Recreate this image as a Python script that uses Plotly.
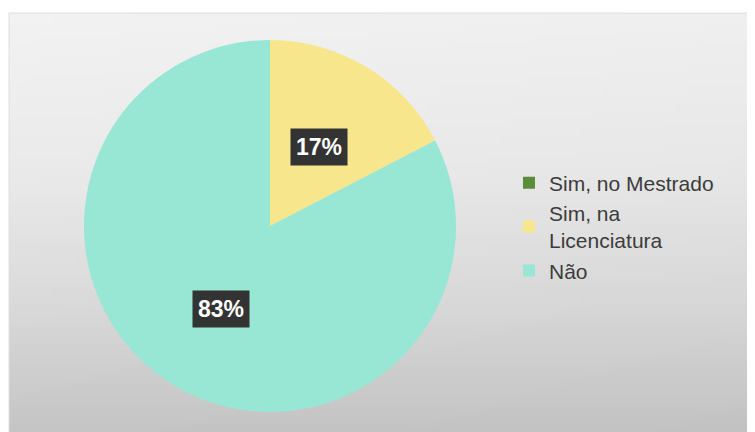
import base64
import math
import struct
import zlib

import plotly.graph_objects as go

# ---- data ----
labels = ["Sim, no Mestrado", "Sim, na<br>Licenciatura", "Não"]
values = [0, 4, 19]
colors = ["#5b8c3a", "#f7e68b", "#97e7d4"]

# ---- background gradient image (pure python PNG) ----
def gradient_png(w=64, h=64):
    stops = [(0.0, 242), (0.37, 234), (0.68, 218), (1.0, 196)]

    def gray(t):
        for (t0, g0), (t1, g1) in zip(stops, stops[1:]):
            if t <= t1:
                return g0 + (g1 - g0) * (t - t0) / (t1 - t0)
        return stops[-1][1]

    raw = b""
    for j in range(h):
        row = b"\x00"
        gy = gray(j / (h - 1))
        for i in range(w):
            g = int(round(gy - 3 * i / (w - 1)))
            row += bytes([g, g, g])
        raw += row

    def chunk(tag, data):
        c = struct.pack(">I", len(data)) + tag + data
        return c + struct.pack(">I", zlib.crc32(tag + data) & 0xFFFFFFFF)

    png = b"\x89PNG\r\n\x1a\n"
    png += chunk(b"IHDR", struct.pack(">IIBBBBB", w, h, 8, 2, 0, 0, 0))
    png += chunk(b"IDAT", zlib.compress(raw, 9))
    png += chunk(b"IEND", b"")
    return "data:image/png;base64," + base64.b64encode(png).decode()


OFF = 8  # page body margin
W, H = 755, 432
ML, MT = 9 - OFF, 13 - OFF
PW, PH = W - ML, H - MT
CX, CY, R = 270 - OFF, 226 - OFF, 186  # pie centre / radius in figure pixels

dom_x = [(CX - R - ML) / PW, (CX + R - ML) / PW]
dom_y = [(H - (CY + R)) / PH, (H - (CY - R)) / PH]

fig = go.Figure(
    go.Pie(
        labels=labels,
        values=values,
        marker=dict(colors=colors, line=dict(width=0)),
        sort=False,
        direction="clockwise",
        rotation=0,
        textinfo="none",
        hoverinfo="label+percent",
        domain=dict(x=dom_x, y=dom_y),
    )
)

# percentage labels in dark boxes, placed along each slice's mid-angle
total = sum(values)
cum = 0
annotations = []
for v in values:
    if v > 0:
        mid = (cum + v / 2) / total * 2 * math.pi
        px = CX + 0.51 * R * math.sin(mid)
        py = CY - 0.51 * R * math.cos(mid)
        annotations.append(
            dict(
                x=(px - ML) / PW,
                y=(H - py) / PH,
                xref="paper",
                yref="paper",
                text=f"<b>{round(100 * v / total)}%</b>",
                showarrow=False,
                font=dict(family="Liberation Sans, Arial", size=23, color="#ffffff"),
                bgcolor="#333333",
                borderpad=5,
                xanchor="center",
                yanchor="middle",
                yshift=-2,
            )
        )
    cum += v

fig.update_layout(
    width=W,
    height=H,
    margin=dict(l=ML, r=0, t=MT, b=0),
    paper_bgcolor="#ffffff",
    images=[
        dict(
            source=gradient_png(),
            xref="paper",
            yref="paper",
            x=0,
            y=1,
            sizex=1,
            sizey=1,
            xanchor="left",
            yanchor="top",
            sizing="stretch",
            layer="below",
        )
    ],
    shapes=[
        dict(
            type="rect",
            xref="paper",
            yref="paper",
            x0=0,
            y0=0,
            x1=1.01,
            y1=1,
            line=dict(color="#dedede", width=1),
            fillcolor="rgba(0,0,0,0)",
            layer="below",
        )
    ],
    annotations=annotations,
    showlegend=True,
    legend=dict(
        x=(509 - OFF - ML) / PW,
        y=(H - (227 - OFF)) / PH,
        xanchor="left",
        yanchor="middle",
        font=dict(family="Liberation Sans, Arial", size=21, color="#3c3c3c"),
        bgcolor="rgba(0,0,0,0)",
        valign="middle",
        traceorder="normal",
    ),
)

fig.write_html("out.html")
